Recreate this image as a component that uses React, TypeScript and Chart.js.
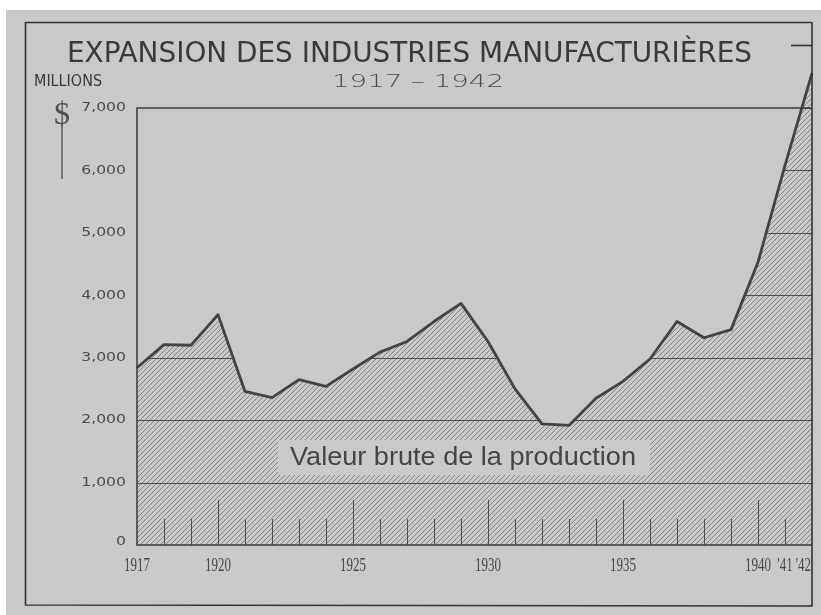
import { useEffect, useRef } from 'react';
import { Chart, registerables } from 'chart.js';
Chart.register(...registerables);

const W = 821;
const H = 615;

const years = ['1917','1918','1919','1920','1921','1922','1923','1924','1925','1926','1927','1928','1929','1930','1931','1932','1933','1934','1935','1936','1937','1938','1939','1940','1941','1942'];
const grossValue = [2840, 3210, 3200, 3690, 2460, 2360, 2650, 2540, 2820, 3090, 3260, 3580, 3870, 3260, 2500, 1940, 1915, 2350, 2620, 2980, 3580, 3320, 3450, 4530, 6080, 7560];
const yTicks = [0, 1000, 2000, 3000, 4000, 5000, 6000, 7000];
const yTickLabels = ['0', '1,000', '2,000', '3,000', '4,000', '5,000', '6,000', '7,000'];
const xLabelYears = ['1917', '1920', '1925', '1930', '1935', '1940', '1941', '1942'];
const xLabels = ['1917', '1920', '1925', '1930', '1935', '1940', "'41", "'42"];
const majorYears = ['1920', '1925', '1930', '1935', '1940'];
const title = 'EXPANSION DES INDUSTRIES MANUFACTURIÈRES';
const subtitle = '1917 – 1942';
const unitLabel = 'MILLIONS';
const currency = '$';
const seriesLabel = 'Valeur brute de la production';

const BG = '#c9c9c7';
const INK = '#3a3a3a';

function makePattern(): CanvasPattern | string {
  const p = 5;
  const c = document.createElement('canvas');
  c.width = p;
  c.height = p;
  const g = c.getContext('2d');
  if (!g) return BG;
  g.fillStyle = BG;
  g.fillRect(0, 0, p, p);
  g.strokeStyle = '#777775';
  g.lineWidth = 0.85;
  for (const off of [-p, 0, p]) {
    g.beginPath();
    g.moveTo(off - 1, p + 1);
    g.lineTo(off + p + 1, -1);
    g.stroke();
  }
  const pat = g.createPattern(c, 'repeat');
  return pat || BG;
}

function fitText(ctx: CanvasRenderingContext2D, text: string, x: number, y: number, width: number, align: 'left' | 'center' | 'right') {
  const w = ctx.measureText(text).width;
  const sx = width / w;
  let start = x;
  if (align === 'center') start = x - width / 2;
  if (align === 'right') start = x - width;
  ctx.save();
  ctx.textAlign = 'left';
  ctx.translate(start, y);
  ctx.scale(sx, 1);
  ctx.fillText(text, 0, 0);
  ctx.restore();
}

function scaledText(ctx: CanvasRenderingContext2D, text: string, x: number, y: number, sx: number, align: 'left' | 'center' | 'right') {
  const w = ctx.measureText(text).width * sx;
  let start = x;
  if (align === 'center') start = x - w / 2;
  if (align === 'right') start = x - w;
  ctx.save();
  ctx.textAlign = 'left';
  ctx.translate(start, y);
  ctx.scale(sx, 1);
  ctx.fillText(text, 0, 0);
  ctx.restore();
}

export default function App() {
  const ref = useRef<HTMLCanvasElement | null>(null);

  useEffect(() => {
    const canvas = ref.current;
    if (!canvas) return;
    const pattern = makePattern();

    const decor = {
      id: 'decor',
      beforeDraw(chart: any) {
        const ctx = chart.ctx as CanvasRenderingContext2D;
        ctx.save();
        ctx.fillStyle = '#ffffff';
        ctx.fillRect(0, 0, W, H);
        ctx.fillStyle = BG;
        ctx.fillRect(6, 10, W - 6, H - 10);
        ctx.restore();
      },
      beforeDatasetsDraw(chart: any) {
        const ctx = chart.ctx as CanvasRenderingContext2D;
        const area = chart.chartArea;
        const xs = chart.scales.x;
        const ys = chart.scales.y;
        const pts = chart.getDatasetMeta(0).data;
        const base = ys.getPixelForValue(0);
        ctx.save();
        ctx.beginPath();
        ctx.moveTo(pts[0].x, base);
        for (const p of pts) ctx.lineTo(p.x, p.y);
        ctx.lineTo(pts[pts.length - 1].x, base);
        ctx.closePath();
        ctx.fillStyle = pattern as any;
        ctx.fill();
        ctx.clip();
        ctx.strokeStyle = '#4e4e4e';
        ctx.lineWidth = 1;
        for (const v of yTicks) {
          const y = Math.round(ys.getPixelForValue(v)) + 0.5;
          ctx.beginPath();
          ctx.moveTo(area.left, y);
          ctx.lineTo(area.right, y);
          ctx.stroke();
        }
        years.forEach((yr, i) => {
          if (i === 0 || i === years.length - 1) return;
          const x = Math.round(xs.getPixelForValue(i)) + 0.5;
          const len = majorYears.includes(yr) ? 45 : 26;
          ctx.beginPath();
          ctx.moveTo(x, base);
          ctx.lineTo(x, base - len);
          ctx.stroke();
        });
        ctx.restore();

        // label box
        ctx.save();
        ctx.fillStyle = BG;
        ctx.fillRect(278, 440, 372, 35);
        ctx.fillStyle = '#454545';
        ctx.font = '25px "Liberation Sans", Arial, sans-serif';
        ctx.textBaseline = 'alphabetic';
        fitText(ctx, seriesLabel, 463, 465, 346, 'center');
        ctx.restore();
      },
      afterDraw(chart: any) {
        const ctx = chart.ctx as CanvasRenderingContext2D;
        const area = chart.chartArea;
        const xs = chart.scales.x;
        const ys = chart.scales.y;
        ctx.save();
        // outer frame
        ctx.strokeStyle = '#333333';
        ctx.lineWidth = 1.6;
        ctx.beginPath();
        ctx.moveTo(area.right, 22.5);
        ctx.lineTo(25.5, 22.5);
        ctx.lineTo(25.5, 605);
        ctx.lineTo(area.right, 606);
        ctx.lineTo(area.right, 22.5);
        ctx.stroke();
        // top-right dash
        ctx.beginPath();
        ctx.moveTo(791, 45.5);
        ctx.lineTo(area.right, 45.5);
        ctx.stroke();
        // plot border
        ctx.lineWidth = 1.5;
        ctx.strokeStyle = '#3a3a3a';
        ctx.beginPath();
        ctx.moveTo(area.right, area.top);
        ctx.lineTo(area.left, area.top);
        ctx.lineTo(area.left, area.bottom);
        ctx.lineTo(area.right, area.bottom);
        ctx.stroke();

        // title
        ctx.fillStyle = INK;
        ctx.textBaseline = 'alphabetic';
        ctx.font = '29px "Liberation Sans Narrow", "DejaVu Sans Condensed", "Liberation Sans", sans-serif';
        fitText(ctx, title, 67, 62, 685, 'left');
        ctx.font = '16px "Liberation Sans Narrow", "DejaVu Sans Condensed", "Liberation Sans", sans-serif';
        fitText(ctx, unitLabel, 34, 86, 68, 'left');
        ctx.font = '300 17px "DejaVu Sans", "Liberation Sans", sans-serif';
        ctx.fillStyle = '#4a4a4a';
        fitText(ctx, subtitle, 418, 87, 172, 'center');

        // currency ornament
        ctx.fillStyle = '#505050';
        ctx.font = '32px "Liberation Serif", serif';
        ctx.textAlign = 'center';
        ctx.fillText(currency, 62, 124);
        ctx.strokeStyle = '#505050';
        ctx.lineWidth = 1.3;
        ctx.beginPath();
        ctx.moveTo(62, 124);
        ctx.lineTo(62, 179);
        ctx.stroke();

        // y tick labels
        ctx.fillStyle = '#4c4c4c';
        ctx.font = '12.5px "DejaVu Sans", sans-serif';
        ctx.textBaseline = 'middle';
        yTicks.forEach((v, i) => {
          const y = ys.getPixelForValue(v) - (v === 0 ? 3 : 0);
          scaledText(ctx, yTickLabels[i], 126, y, 1.25, 'right');
        });

        // x labels
        ctx.font = '18px "Liberation Serif", serif';
        ctx.textBaseline = 'alphabetic';
        ctx.fillStyle = '#484848';
        xLabelYears.forEach((yr, i) => {
          const idx = years.indexOf(yr);
          const x = xs.getPixelForValue(idx);
          if (i === xLabelYears.length - 1) {
            scaledText(ctx, xLabels[i], x - 1, 571, 0.72, 'right');
          } else {
            scaledText(ctx, xLabels[i], x, 571, 0.72, 'center');
          }
        });
        ctx.restore();
      },
    };

    const chart = new Chart(canvas, {
      type: 'line',
      data: {
        labels: years,
        datasets: [
          {
            label: seriesLabel,
            data: grossValue,
            borderColor: '#434343',
            borderWidth: 2.8,
            pointRadius: 0,
            tension: 0,
            fill: false,
            clip: false as any,
            borderJoinStyle: 'round',
          },
        ],
      },
      options: {
        animation: false,
        responsive: false,
        devicePixelRatio: 1,
        layout: { padding: { left: 137, right: 9, top: 108, bottom: 70 } },
        plugins: { legend: { display: false }, tooltip: { enabled: false }, title: { display: false } },
        scales: {
          x: { display: false, offset: false },
          y: { display: false, min: 0, max: 7000 },
        },
      },
      plugins: [decor],
    });
    return () => chart.destroy();
  }, []);

  return (
    <div style={{ position: 'absolute', left: 0, top: 0, width: W, height: H }}>
      <canvas ref={ref} width={W} height={H} style={{ display: 'block' }} />
    </div>
  );
}
